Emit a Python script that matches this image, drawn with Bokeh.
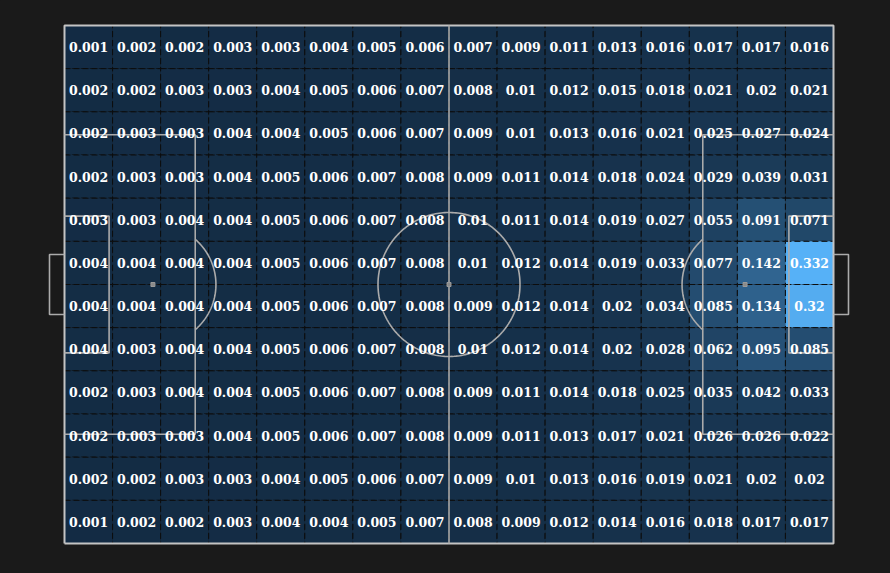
import numpy as np
from bokeh.plotting import figure
from bokeh.models import ColumnDataSource
from bokeh.core.properties import value
from bokeh.embed import file_html
from bokeh.resources import INLINE

# xT grid values, rows listed top to bottom, 16 columns left to right
row01 = [0.001, 0.002, 0.002, 0.003, 0.003, 0.004, 0.005, 0.006, 0.007, 0.009, 0.011, 0.013, 0.016, 0.017, 0.017, 0.016]
row02 = [0.002, 0.002, 0.003, 0.003, 0.004, 0.005, 0.006, 0.007, 0.008, 0.01, 0.012, 0.015, 0.018, 0.021, 0.02, 0.021]
row03 = [0.002, 0.003, 0.003, 0.004, 0.004, 0.005, 0.006, 0.007, 0.009, 0.01, 0.013, 0.016, 0.021, 0.025, 0.027, 0.024]
row04 = [0.002, 0.003, 0.003, 0.004, 0.005, 0.006, 0.007, 0.008, 0.009, 0.011, 0.014, 0.018, 0.024, 0.029, 0.039, 0.031]
row05 = [0.003, 0.003, 0.004, 0.004, 0.005, 0.006, 0.007, 0.008, 0.01, 0.011, 0.014, 0.019, 0.027, 0.055, 0.091, 0.071]
row06 = [0.004, 0.004, 0.004, 0.004, 0.005, 0.006, 0.007, 0.008, 0.01, 0.012, 0.014, 0.019, 0.033, 0.077, 0.142, 0.332]
row07 = [0.004, 0.004, 0.004, 0.004, 0.005, 0.006, 0.007, 0.008, 0.009, 0.012, 0.014, 0.02, 0.034, 0.085, 0.134, 0.32]
row08 = [0.004, 0.003, 0.004, 0.004, 0.005, 0.006, 0.007, 0.008, 0.01, 0.012, 0.014, 0.02, 0.028, 0.062, 0.095, 0.085]
row09 = [0.002, 0.003, 0.004, 0.004, 0.005, 0.006, 0.007, 0.008, 0.009, 0.011, 0.014, 0.018, 0.025, 0.035, 0.042, 0.033]
row10 = [0.002, 0.003, 0.003, 0.004, 0.005, 0.006, 0.007, 0.008, 0.009, 0.011, 0.013, 0.017, 0.021, 0.026, 0.026, 0.022]
row11 = [0.002, 0.002, 0.003, 0.003, 0.004, 0.005, 0.006, 0.007, 0.009, 0.01, 0.013, 0.016, 0.019, 0.021, 0.02, 0.02]
row12 = [0.001, 0.002, 0.002, 0.003, 0.004, 0.004, 0.005, 0.007, 0.008, 0.009, 0.012, 0.014, 0.016, 0.018, 0.017, 0.017]
rows = [row01, row02, row03, row04, row05, row06, row07, row08, row09, row10, row11, row12]

NX, NY = 16, 12
BG = "#1a1a1a"
LOW = np.array([0x13, 0x2B, 0x43])
HIGH = np.array([0x56, 0xB1, 0xF7])
LINE = "#ababab"

vmax = max(max(r) for r in rows)
xs, ys, cols, labels = [], [], [], []
cw, ch = 100 / NX, 100 / NY
for ri, r in enumerate(rows):
    for ci, v in enumerate(r):
        xs.append((ci + 0.5) * cw)
        ys.append(100 - (ri + 0.5) * ch)
        t = v / vmax
        c = (LOW + t * (HIGH - LOW)).round().astype(int)
        cols.append("#%02x%02x%02x" % tuple(c))
        labels.append("%g" % v)
src = ColumnDataSource(dict(x=xs, y=ys, c=cols, t=labels))

# figure geometry (pitch 0..100 mapped to pixel frame)
FW, FH = 890, 573
px0, px1 = 64, 833   # pitch left/right in figure px
py0, py1 = 25, 543   # pitch top/bottom in figure px
sx = (px1 - px0) / 100
sy = (py1 - py0) / 100
x_start = -px0 / sx
x_end = 100 + (FW - px1) / sx
y_end = 100 + py0 / sy
y_start = -(FH - py1) / sy

p = figure(width=FW, height=FH, x_range=(x_start, x_end), y_range=(y_start, y_end),
           output_backend="svg", toolbar_location=None, min_border=0,
           background_fill_color=BG, border_fill_color=BG, outline_line_color=None)
p.axis.visible = False
p.grid.visible = False

p.rect("x", "y", width=cw, height=ch, source=src, fill_color="c",
       line_color="#0d0d0d", line_width=1, line_dash="6 3")

lw = 1.6
p.line([0, 100, 100, 0, 0], [0, 0, 100, 100, 0], line_color="#c4c4c4", line_width=2)
p.line([50, 50], [0, 100], line_color=LINE, line_width=lw)
p.line([0, 17, 17, 0], [21.1, 21.1, 78.9, 78.9], line_color=LINE, line_width=lw)
p.line([100, 83, 83, 100], [21.1, 21.1, 78.9, 78.9], line_color=LINE, line_width=lw)
p.line([0, 5.8, 5.8, 0], [36.8, 36.8, 63.2, 63.2], line_color=LINE, line_width=lw)
p.line([100, 94.2, 94.2, 100], [36.8, 36.8, 63.2, 63.2], line_color=LINE, line_width=lw)
p.line([0, -1.95, -1.95, 0], [44.2, 44.2, 55.8, 55.8], line_color=LINE, line_width=lw)
p.line([100, 101.95, 101.95, 100], [44.2, 44.2, 55.8, 55.8], line_color=LINE, line_width=lw)

# centre circle
rx, ry = 71 / sx, 72 / sy
th = np.linspace(0, 2 * np.pi, 240)
p.line(50 + rx * np.cos(th), 50 + ry * np.sin(th), line_color=LINE, line_width=lw)
# penalty arcs
arx, ary = 63 / sx, 61 / sy
tl = np.linspace(-np.pi / 2, np.pi / 2, 240)
ax = 11.5 + arx * np.cos(tl)
ay = 50 + ary * np.sin(tl)
m = ax >= 17
p.line(ax[m], ay[m], line_color=LINE, line_width=lw)
p.line(100 - ax[m], ay[m], line_color=LINE, line_width=lw)
p.rect([50, 11.5, 88.5], [50, 50, 50], width=4, height=4, width_units="screen",
       height_units="screen", fill_color="#8a8a8a", line_color="#9a9a9a", line_width=1)

p.text("x", "y", text="t", source=src, text_color="white", text_align="center",
       text_baseline="middle", text_font=value("DejaVu Serif"), text_font_style="bold",
       text_font_size="12.5px")

html = file_html(p, INLINE)
html = html.replace("<head>", "<head><style>html,body{background-color:%s;margin:0;}</style>" % BG, 1)
open("out.html", "w").write(html)
